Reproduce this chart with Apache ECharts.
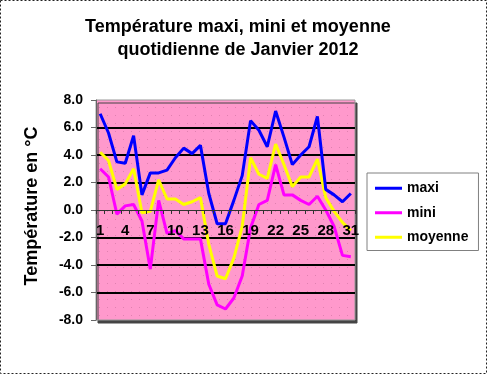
<!DOCTYPE html>
<html>
<head>
<meta charset="utf-8">
<script src="https://cdn.jsdelivr.net/npm/echarts@6/dist/echarts.min.js"></script>
<style>
html,body{margin:0;padding:0;background:#fff;}
#c{width:488px;height:375px;}
</style>
</head>
<body>
<div id="c"></div>
<script>
var days = [];
for (var d = 1; d <= 31; d++) days.push(String(d));
var maxi = [7.0, 5.6, 3.5, 3.4, 5.4, 1.1, 2.7, 2.7, 2.9, 3.8, 4.5, 4.1, 4.7, 1.2, -1.0, -1.0, 0.7, 2.5, 6.5, 5.8, 4.6, 7.2, 5.3, 3.3, 4.0, 4.6, 6.8, 1.5, 1.1, 0.6, 1.2];
var mini = [3.0, 2.4, -0.3, 0.3, 0.4, -0.8, -4.3, 0.7, -1.7, -1.5, -2.1, -2.1, -2.1, -5.4, -6.9, -7.2, -6.4, -4.8, -1.3, 0.4, 0.7, 3.3, 1.1, 1.1, 0.7, 0.4, 1.0, 0.0, -1.2, -3.3, -3.4];
var moyenne = [4.2, 3.6, 1.5, 1.9, 3.0, -0.2, -0.1, 2.2, 0.8, 0.8, 0.4, 0.6, 0.9, -2.5, -4.8, -5.0, -3.5, -1.2, 3.8, 2.6, 2.3, 4.8, 3.3, 1.7, 2.4, 2.4, 3.7, 0.9, -0.1, -0.9, -1.5];
var seriesNames = ['maxi', 'mini', 'moyenne'];
var titleLines = ['Température maxi, mini et moyenne', 'quotidienne de Janvier 2012'];
var yTitle = 'Température en °C';

var FONT = '"Liberation Sans", Arial, sans-serif';

// dotted pink background pattern
var pc = document.createElement('canvas');
pc.width = 8; pc.height = 8;
var g = pc.getContext('2d');
g.fillStyle = '#FF99CC'; g.fillRect(0, 0, 8, 8);
g.fillStyle = '#E080B0'; g.fillRect(3, 3, 1, 1);

var chart = echarts.init(document.getElementById('c'), null, {renderer: 'canvas'});
chart.setOption({
  animation: false,
  backgroundColor: '#ffffff',
  title: {
    text: titleLines.join('\n'),
    left: 233, textAlign: 'center', top: 11,
    textStyle: {fontFamily: FONT, fontWeight: 'bold', fontSize: 18, color: '#000', lineHeight: 23}
  },
  graphic: [{
    type: 'rect', z: 100, silent: true,
    shape: {x: 0.5, y: 0.5, width: 486, height: 373},
    style: {fill: 'rgba(0,0,0,0)', stroke: '#222', lineWidth: 1, lineDash: [2, 2]}
  }],
  legend: {
    orient: 'vertical', left: 367, top: 173,
    data: seriesNames, icon: 'rect',
    backgroundColor: '#fff', borderColor: '#808080', borderWidth: 1,
    padding: [8, 10, 6, 8], itemGap: 10, itemWidth: 27, itemHeight: 3,
    textStyle: {fontFamily: FONT, fontWeight: 'bold', fontSize: 14, color: '#000', lineHeight: 14.5}
  },
  grid: {
    left: 96, right: 133, top: 100, bottom: 55,
    show: true, backgroundColor: {image: pc, repeat: 'repeat'},
    borderColor: '#999', borderWidth: 1,
    shadowColor: '#444', shadowOffsetX: 2, shadowOffsetY: 3, shadowBlur: 0
  },
  xAxis: {
    type: 'category', data: days, boundaryGap: true, position: 'bottom', offset: -110, z: 10,
    axisLine: {onZero: false, lineStyle: {color: '#333', width: 1}},
    axisTick: {show: true, interval: 0, length: 4, inside: false, lineStyle: {color: '#333'}},
    axisLabel: {interval: 2, margin: 13, fontFamily: FONT, fontWeight: 'bold', fontSize: 15, color: '#000'},
    splitLine: {show: false}
  },
  yAxis: {
    type: 'value', min: -8, max: 8, interval: 2,
    name: yTitle, nameLocation: 'middle', nameRotate: 90, nameGap: 55,
    nameTextStyle: {fontFamily: FONT, fontWeight: 'bold', fontSize: 18, color: '#000', padding: [0, 0, 0, 8]},
    axisLine: {show: true, lineStyle: {color: '#666'}},
    axisTick: {show: true, length: 5, lineStyle: {color: '#666'}},
    axisLabel: {margin: 13, fontFamily: FONT, fontWeight: 'bold', fontSize: 14, color: '#000',
      formatter: function (v) { return v.toFixed(1); }},
    splitLine: {show: true, lineStyle: {width: 2,
      color: ['rgba(0,0,0,0)', '#000', '#000', '#000', 'rgba(0,0,0,0)', '#000', '#000', '#000', 'rgba(0,0,0,0)']}}
  },
  series: [
    {name: seriesNames[0], type: 'line', data: maxi, symbol: 'none', lineStyle: {color: '#0000FF', width: 3}, itemStyle: {color: '#0000FF'}, z: 4},
    {name: seriesNames[1], type: 'line', data: mini, symbol: 'none', lineStyle: {color: '#FF00FF', width: 3}, itemStyle: {color: '#FF00FF'}, z: 3},
    {name: seriesNames[2], type: 'line', data: moyenne, symbol: 'none', lineStyle: {color: '#FFFF00', width: 3}, itemStyle: {color: '#FFFF00'}, z: 3}
  ]
});
</script>
</body>
</html>
